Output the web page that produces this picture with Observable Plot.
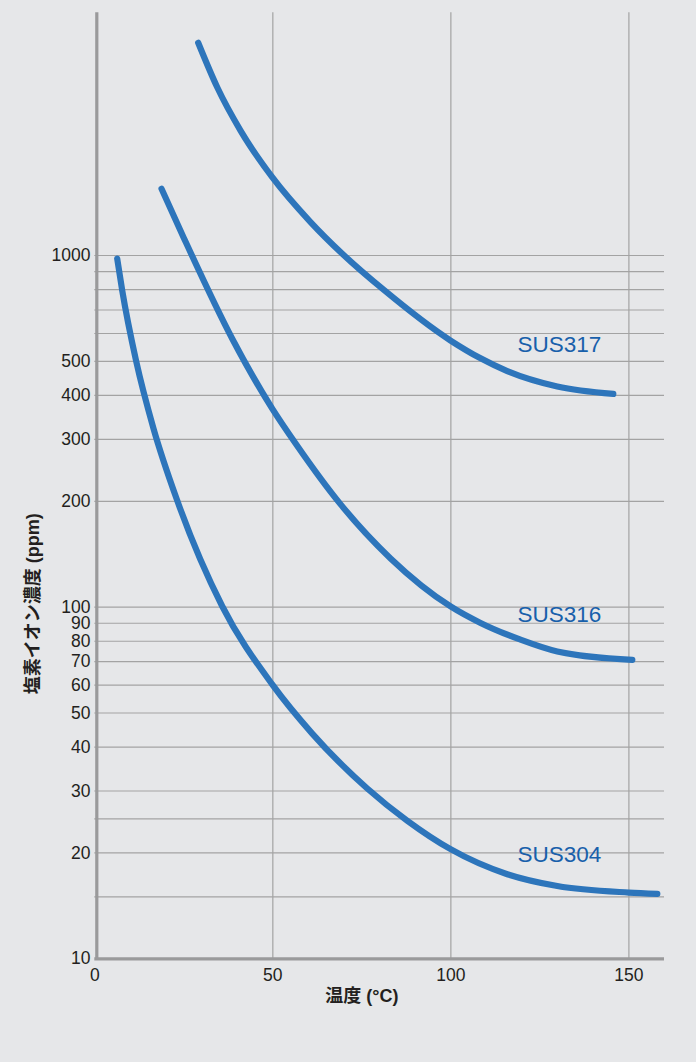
<!DOCTYPE html>
<html>
<head>
<meta charset="utf-8">
<script src="https://cdn.jsdelivr.net/npm/d3@7"></script>
<script src="https://cdn.jsdelivr.net/npm/@observablehq/plot@0.6"></script>
<style>
  html, body { margin: 0; padding: 0; background: #e6e7e9; }
  #chart { width: 696px; height: 1062px; }
</style>
</head>
<body>
<div id="chart"></div>
<script>
// ---- data ----
const sus304Temp = [6.29, 7.7, 11.57, 16.49, 23.15, 35.79, 49.83, 61.07, 76.52, 87.75, 99.92, 115.84, 129.89, 150.0, 157.98];
const sus304Ppm  = [980, 795, 503, 322, 201, 100.6, 60.3, 43.7, 30.5, 24.7, 20.5, 17.4, 16.1, 15.43, 15.3];

const sus316Temp = [18.74, 25.0, 38.6, 49.83, 56.4, 69.04, 83.06, 99.92, 108.34, 119.58, 129.89, 150.96];
const sus316Ppm  = [1548, 1122, 580, 367, 292, 196, 137.6, 100.5, 90.2, 80.8, 74.8, 70.8];

const sus317Temp = [29.04, 34.38, 40.93, 49.83, 60.59, 69.58, 81.18, 99.92, 108.34, 115.84, 129.89, 145.62];
const sus317Ppm  = [4027, 3009, 2266, 1670, 1245, 1010, 798, 573, 510, 469, 424, 404];

const gradeNames = ["SUS304", "SUS316", "SUS317"];
const labelTemp  = [118.7, 118.7, 118.7];
const labelPpm   = [19.7, 95.3, 558];

const yGridValues  = [15, 20, 25, 30, 40, 50, 60, 70, 80, 90, 100, 200, 300, 400, 500, 600, 700, 800, 900, 1000];
const yTickValues  = [10, 20, 30, 40, 50, 60, 70, 80, 90, 100, 200, 300, 400, 500, 1000];
const xGridValues  = [50, 100, 150];
const xTickValues  = [0, 50, 100, 150];
const xTitle = "温度 (°C)";
const yTitle = "塩素イオン濃度 (ppm)";

// ---- build table ----
const seriesTemp = [sus304Temp, sus316Temp, sus317Temp];
const seriesPpm  = [sus304Ppm, sus316Ppm, sus317Ppm];
const rows = gradeNames.flatMap((g, i) => seriesTemp[i].map((t, j) => ({grade: g, t, c: seriesPpm[i][j]})));
const labels = gradeNames.map((g, i) => ({grade: g, t: labelTemp[i], c: labelPpm[i]}));

const font = "'Liberation Sans', Arial, 'Noto Sans CJK JP', sans-serif";

const chart = Plot.plot({
  width: 696,
  height: 1062,
  marginLeft: 94.3,
  marginRight: 32,
  marginTop: 12.3,
  marginBottom: 103.7,
  style: {background: "#e6e7e9", fontFamily: font, fontSize: "18px", color: "#231f20"},
  x: {domain: [0, 160], axis: null},
  y: {type: "log", domain: [10, 4900], axis: null},
  marks: [
    Plot.ruleY(yGridValues, {stroke: "#a3a3a3", strokeWidth: 1.2}),
    Plot.ruleX(xGridValues, {stroke: "#a3a3a3", strokeWidth: 1.2}),
    Plot.ruleX([0], {stroke: "#9a9a9b", strokeWidth: 3.2, dx: 2, insetBottom: -1.6}),
    Plot.ruleY([10], {stroke: "#9a9a9b", strokeWidth: 3.2}),
    Plot.line(rows, {x: "t", y: "c", z: "grade", stroke: "#2d75bb", strokeWidth: 6.2,
                     curve: "monotone-x", strokeLinecap: "round", strokeLinejoin: "round"}),
    Plot.text(labels, {x: "t", y: "c", text: "grade", textAnchor: "start", lineAnchor: "middle",
                       fill: "#1860ab", fontSize: 22.5, fontFamily: font, letterSpacing: "0.8px"}),
    // y tick labels
    Plot.text(yTickValues, {y: d => d, text: d => String(d), frameAnchor: "left", textAnchor: "end",
                            lineAnchor: "middle", dx: -4.3, fontSize: 17.5, fill: "#231f20"}),
    // x tick labels
    Plot.text(xTickValues, {x: d => d, text: d => String(d), frameAnchor: "bottom", textAnchor: "middle",
                            lineAnchor: "top", dy: 10, fontSize: 17.5, fill: "#231f20"}),
    Plot.text([xTitle], {frameAnchor: "bottom", textAnchor: "middle", dx: -17.7, dy: 37, lineAnchor: "middle",
                         fontSize: 18, fontWeight: "bold", fill: "#231f20", fontFamily: font}),
    Plot.text([yTitle], {frameAnchor: "left", textAnchor: "middle", rotate: -90, dx: -61.8, dy: 118,
                         lineAnchor: "middle", fontSize: 18, fontWeight: "bold", fill: "#231f20", fontFamily: font})
  ]
});
document.getElementById("chart").appendChild(chart);
</script>
</body>
</html>
